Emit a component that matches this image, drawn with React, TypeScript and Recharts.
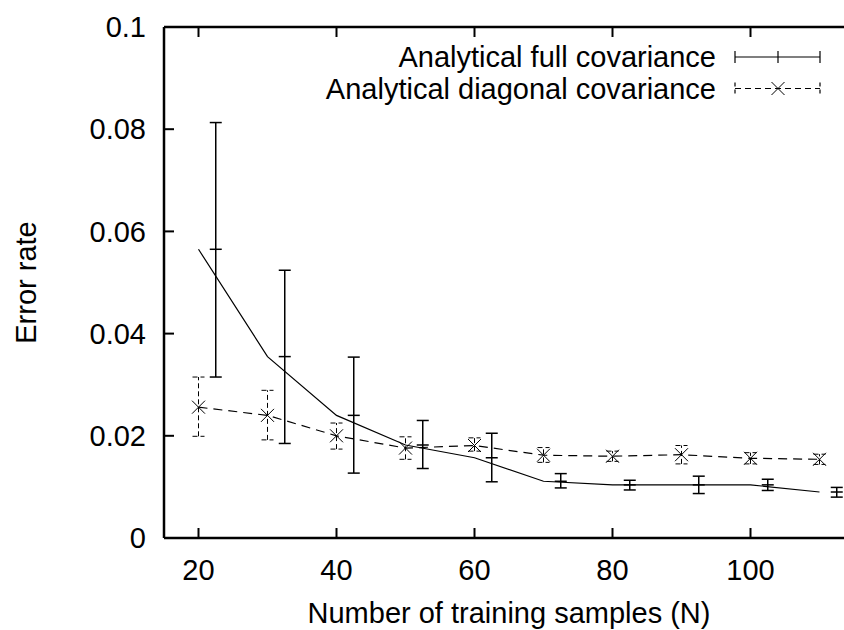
import React from "react";
import { ComposedChart, Line, Scatter, ErrorBar, XAxis, YAxis } from "recharts";

// training set sizes (N)
const sampleSizes = [20, 30, 40, 50, 60, 70, 80, 90, 100, 110];

// analytical full covariance: mean error and bar limits
const fullMean = [0.0565, 0.0355, 0.024, 0.0182, 0.0157, 0.0111, 0.0104, 0.0104, 0.0104, 0.009];
const fullLow = [0.0315, 0.0185, 0.0127, 0.0136, 0.011, 0.0098, 0.0094, 0.0087, 0.0093, 0.008];
const fullHigh = [0.0813, 0.0524, 0.0354, 0.023, 0.0205, 0.0126, 0.0113, 0.0121, 0.0115, 0.0099];

// analytical diagonal covariance
const diagMean = [0.0256, 0.024, 0.02, 0.0176, 0.0181, 0.0162, 0.016, 0.0163, 0.0156, 0.0154];
const diagLow = [0.0199, 0.0192, 0.0174, 0.0154, 0.017, 0.0148, 0.015, 0.0145, 0.0145, 0.0144];
const diagHigh = [0.0315, 0.0289, 0.0225, 0.0198, 0.0196, 0.0177, 0.017, 0.0181, 0.0167, 0.0164];

const xTicks = [20, 40, 60, 80, 100];
const yTicks = [0, 0.02, 0.04, 0.06, 0.08, 0.1];
const seriesNames = ["Analytical full covariance", "Analytical diagonal covariance"];

// full-covariance bars are drawn slightly to the right of their points
const fullBarShift = 2.5;

const rows = sampleSizes.map((n, i) => ({
  n,
  full: fullMean[i],
  diag: diagMean[i],
  diagErr: [diagMean[i] - diagLow[i], diagHigh[i] - diagMean[i]],
}));

const fullBarRows = sampleSizes.map((n, i) => ({
  n: n + fullBarShift,
  full: fullMean[i],
  fullErr: [fullMean[i] - fullLow[i], fullHigh[i] - fullMean[i]],
}));

const font = "'Liberation Sans', Arial, Helvetica, sans-serif";
const fontSize = 29;
const ink = "#000";

// plot box edges in px
const plotLeft = 164;
const plotBottom = 538;

function CrossDot(props: any) {
  const { cx, cy, index } = props;
  if (cx == null || cy == null) return <g key={`x-${index}`} />;
  const s = 6.5;
  return (
    <path
      key={`x-${index}`}
      d={`M${cx - s},${cy - s}L${cx + s},${cy + s}M${cx - s},${cy + s}L${cx + s},${cy - s}`}
      stroke={ink}
      strokeWidth={1}
      fill="none"
    />
  );
}

function MeanTick(props: any) {
  const { cx, cy } = props;
  return <line x1={cx - 6} x2={cx + 6} y1={cy} y2={cy} stroke={ink} strokeWidth={1.5} />;
}

function XTick(props: any) {
  const { x, payload } = props;
  return (
    <text x={x} y={plotBottom + 42} textAnchor="middle" fontSize={fontSize} fontFamily={font} fill={ink}>
      {payload.value}
    </text>
  );
}

function YTick(props: any) {
  const { y, payload } = props;
  return (
    <text x={plotLeft - 18} y={y} dy="0.355em" textAnchor="end" fontSize={fontSize} fontFamily={font} fill={ink}>
      {String(payload.value)}
    </text>
  );
}

function GnuLegend() {
  return (
    <svg width={844} height={110} style={{ position: "absolute", left: 0, top: 0, pointerEvents: "none" }}>
      {seriesNames.map((name, i) => {
        const y = 57 + i * 31.5;
        const dash = i ? "6 4" : undefined;
        return (
          <g key={name}>
            <text x={716} y={y + 10} textAnchor="end" fontSize={fontSize} fontFamily={font} fill={ink}>
              {name}
            </text>
            <line x1={735} x2={820} y1={y} y2={y} stroke={ink} strokeWidth={1.2} strokeDasharray={dash} />
            <line x1={735} x2={735} y1={y - 6} y2={y + 6} stroke={ink} strokeWidth={1.2} strokeDasharray={dash ? "4 3" : undefined} />
            <line x1={820} x2={820} y1={y - 6} y2={y + 6} stroke={ink} strokeWidth={1.2} strokeDasharray={dash ? "4 3" : undefined} />
            {i === 0 ? (
              <line x1={778} x2={778} y1={y - 6} y2={y + 6} stroke={ink} strokeWidth={1.2} />
            ) : (
              <path d={`M771.5,${y - 6.5}L784.5,${y + 6.5}M771.5,${y + 6.5}L784.5,${y - 6.5}`} stroke={ink} strokeWidth={1} />
            )}
          </g>
        );
      })}
    </svg>
  );
}

const labelText = { fill: ink, fontSize, fontFamily: font };
const axisLine = { stroke: ink, strokeWidth: 2.5 };
const tickLine = { stroke: ink, strokeWidth: 2 };

export default function App() {
  return (
    <div style={{ position: "fixed", left: 0, top: 0, width: 844, height: 630, overflow: "hidden", background: "#fff" }}>
      <ComposedChart width={860} height={630} data={rows} margin={{ top: 26, right: 5, bottom: 0, left: 0 }}>
        <XAxis
          dataKey="n"
          type="number"
          domain={[15, 115]}
          ticks={xTicks}
          allowDataOverflow
          height={92}
          tickSize={-10}
          tick={<XTick />}
          axisLine={axisLine}
          tickLine={tickLine}
          label={{ value: "Number of training samples (N)", position: "insideBottom", offset: 7, style: labelText }}
        />
        <XAxis
          xAxisId="top"
          orientation="top"
          dataKey="n"
          type="number"
          domain={[15, 115]}
          ticks={xTicks}
          allowDataOverflow
          height={1}
          tickSize={-10}
          tickFormatter={() => ""}
          axisLine={axisLine}
          tickLine={tickLine}
        />
        <YAxis
          type="number"
          domain={[0, 0.1]}
          ticks={yTicks}
          allowDataOverflow
          width={plotLeft}
          tickSize={-10}
          tick={<YTick />}
          axisLine={axisLine}
          tickLine={tickLine}
          label={{ value: "Error rate", angle: -90, position: "insideLeft", offset: 26, style: { ...labelText, textAnchor: "middle" } }}
        />
        <YAxis
          yAxisId="right"
          orientation="right"
          type="number"
          domain={[0, 0.1]}
          ticks={yTicks}
          width={1}
          tickSize={-10}
          tickFormatter={() => ""}
          axisLine={axisLine}
          tickLine={tickLine}
        />
        <Line dataKey="full" stroke={ink} strokeWidth={1.2} dot={false} isAnimationActive={false} />
        <Scatter data={fullBarRows} dataKey="full" shape={<MeanTick />} isAnimationActive={false}>
          <ErrorBar dataKey="fullErr" direction="y" width={6} stroke={ink} strokeWidth={1.5} />
        </Scatter>
        <Line
          dataKey="diag"
          stroke={ink}
          strokeWidth={1.2}
          strokeDasharray="9 6"
          dot={CrossDot}
          isAnimationActive={false}
        >
          <ErrorBar dataKey="diagErr" direction="y" width={6} stroke={ink} strokeWidth={1} strokeDasharray="5 3" />
        </Line>
      </ComposedChart>
      <GnuLegend />
    </div>
  );
}
